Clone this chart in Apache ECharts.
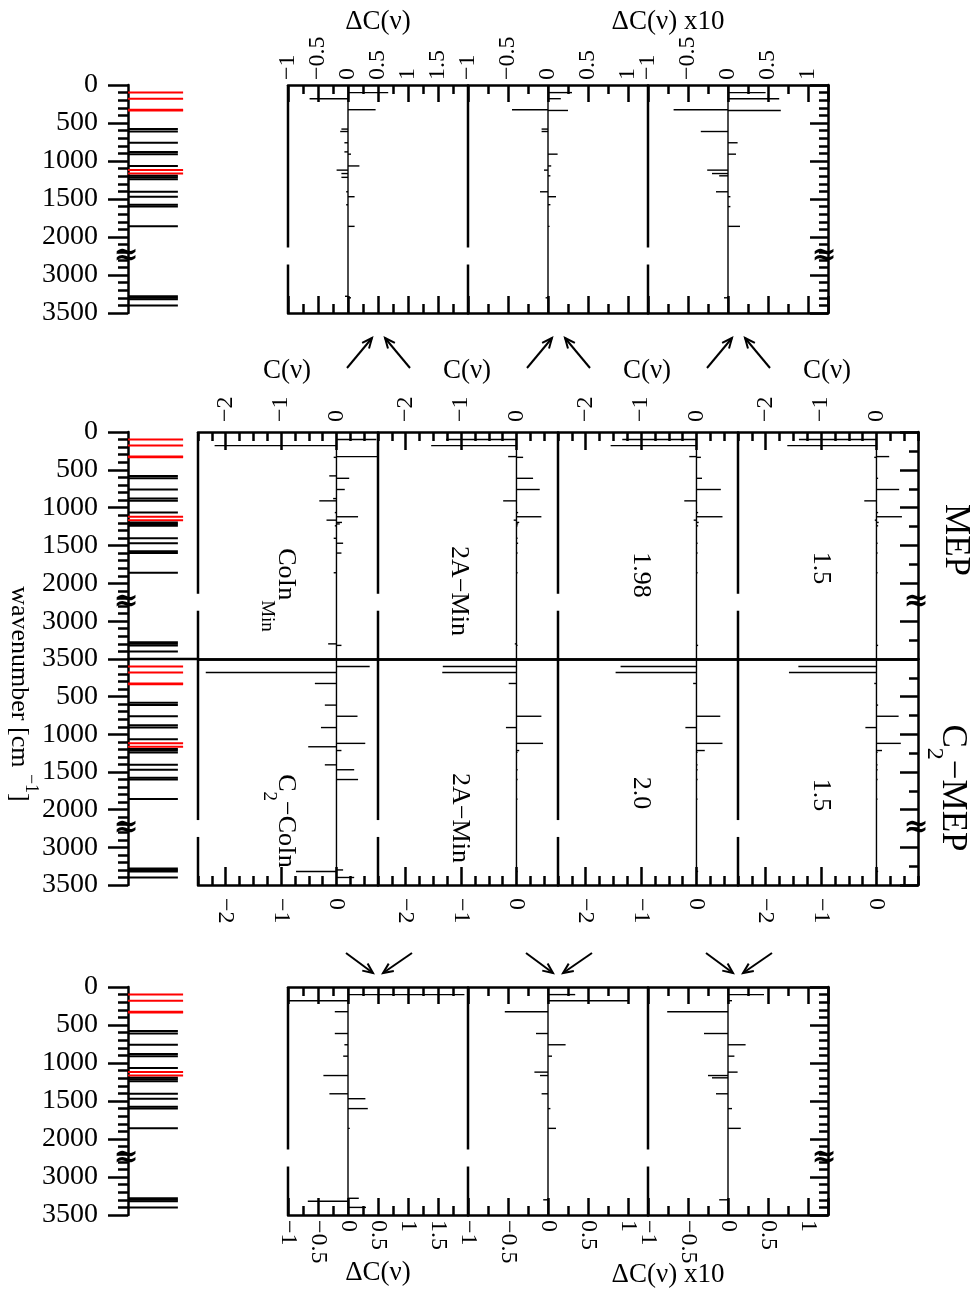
<!DOCTYPE html>
<html>
<head>
<meta charset="utf-8">
<script src="https://cdn.jsdelivr.net/npm/echarts@6/dist/echarts.min.js"></script>
<style>
  html, body { margin: 0; padding: 0; background: #fff; }
  #c { width: 980px; height: 1292px; }
</style>
</head>
<body>
<div id="c"></div>
<script>
// ---- normal modes (cm^-1) ----
const modes = [100, 180, 325, 335, 580, 612, 760, 880, 910, 1065, 1120, 1165, 1195, 1215, 1240, 1405, 1470, 1575, 1600, 1860, 3280, 3300, 3320, 3400];
const highlightedModes = [100, 180, 325, 335, 1120, 1165];

// ---- C(nu) along the MEP ----
const cMepCoInMin = [0.72, -2.20, 0.75, -0.05, -0.13, 0.23, 0.15, -0.06, -0.31, -0.03, 0.39, -0.18, 0.10, 0.06, -0.03, -0.05, 0.12, 0, 0.09, -0.05, 0, -0.15, 0.09, 0];
const cMep2AMin   = [-1.27, -1.54, -0.15, 0.12, 0, 0.30, 0.42, 0, -0.24, 0.03, 0.45, -0.05, 0.05, 0.03, 0.02, 0.02, 0.03, 0, 0.02, 0.02, 0, -0.03, 0.02, 0];
const cMep198     = [-1.34, -1.55, -0.13, 0.08, 0, 0.10, 0.44, 0, -0.22, 0.03, 0.47, -0.05, 0.04, 0, 0.03, 0, 0.02, 0, 0.02, 0.02, 0, 0, 0.03, 0];
const cMep15      = [-1.40, -1.61, 0.23, -0.04, 0, 0.03, 0.41, 0, -0.22, 0.03, 0.46, -0.03, 0.04, 0, 0.03, 0, 0.02, 0, 0.02, 0.02, 0, 0, 0.03, 0];

// ---- C(nu) along the C2-MEP ----
const cC2CoIn  = [0.60, -2.36, -0.39, 0, 0, -0.21, 0.38, 0, -0.28, 0, 0.52, -0.51, 0, 0.09, 0, -0.21, 0.32, 0, 0.39, 0, 0, 0.12, -0.73, 0.32];
const cC22AMin = [-1.33, -1.34, -0.14, 0, 0, 0, 0.45, 0, -0.19, 0, 0.48, 0, 0, 0.05, 0.02, 0, 0.02, 0, 0.02, 0.02, 0, 0, 0.02, 0];
const cC220    = [-1.37, -1.46, -0.06, 0, 0, 0, 0.43, 0, -0.20, 0, 0.47, 0, 0, 0.15, 0.02, 0.02, 0.02, 0, 0.02, 0.02, 0, 0, 0.03, 0];
const cC215    = [-1.41, -1.58, -0.04, 0, 0, 0.03, 0.40, 0, -0.20, 0, 0.44, 0, 0, 0.10, 0.02, 0.02, 0.02, 0, 0.02, 0.02, 0, 0, 0.03, 0];

// ---- Delta C(nu) between neighbouring MEP points ----
const dMep1 = [0.67, -0.64, 0.46, 0, -0.11, -0.13, -0.06, -0.06, 0.05, 0.19, -0.19, -0.11, 0, -0.11, 0, -0.03, 0.11, -0.03, 0, 0.11, -0.05, 0.05, 0, 0];
const dMep2 = [0.30, 0.16, -0.45, 0.25, -0.08, -0.08, 0, 0, 0.12, 0.04, -0.05, 0, 0.03, 0, 0, -0.10, 0.10, 0.03, 0, 0.02, 0, -0.03, 0, 0];
const dMep3 = [0.47, 0.64, -0.68, 0.66, 0, -0.34, 0.12, 0, 0.10, 0, -0.26, -0.20, -0.11, 0, 0, -0.15, 0.03, 0, 0.03, 0.15, 0, -0.05, 0, 0];

// ---- Delta C(nu) between neighbouring C2-MEP points ----
const dC21 = [1.94, -1.00, -0.22, 0, 0, -0.22, -0.06, 0, -0.08, 0, 0, -0.41, 0, 0, 0, -0.31, 0.29, 0, 0.33, 0.03, 0.18, 0, -0.67, 0.30];
const dC22 = [0.34, 1.00, -0.54, 0, 0, -0.15, 0.22, 0, 0.05, 0, -0.17, -0.10, 0, 0, 0, -0.08, 0, 0, 0.03, 0.10, 0, -0.06, 0, 0];
const dC23 = [0.45, 0.05, -0.76, 0, 0, -0.30, 0.22, 0, 0.08, 0, 0.12, -0.25, -0.20, 0, 0, -0.15, 0, 0, 0.05, 0.16, 0, -0.11, 0, 0];

// ---- tick labels of the C(nu) axes ----
const cTickLabels = [-2, -1, 0];

// ---- broken wavenumber axis: 2250..2750 cm^-1 is cut out ----
const BREAK_T = 2250, CUT = 500, SPAN_T = 3000;
const toT = w => (w <= BREAK_T ? w : w - CUT);
const fromT = t => (t <= BREAK_T ? t : t + CUT);

const FONT = 'Liberation Serif';
const BLACK = '#000';
const RED = '#ff0000';
const frameLine = { color: BLACK, width: 2.5 };
const none = { show: false };
const fmt = v => {
  const r = Math.round(v * 100) / 100;
  return r === 0 ? '0' : String(r).replace('-', '\u2212');
};

const grid = [], xAxis = [], yAxis = [], series = [];
const addGrid = (left, top, width, height) => { grid.push({ left, top, width, height }); return grid.length - 1; };
const addX = c => { xAxis.push(c); return xAxis.length - 1; };
const addY = c => { yAxis.push(c); return yAxis.length - 1; };

// wavenumber axis of a value panel (visible only on the outer right frame)
function waveY(gi, visible, minorSplit) {
  return addY({
    gridIndex: gi, type: 'value', inverse: true, min: 0, max: SPAN_T, interval: 500,
    position: 'right', show: visible,
    axisLine: { show: visible, onZero: false, lineStyle: frameLine },
    axisTick: { show: visible, inside: true, length: 18, lineStyle: frameLine },
    minorTick: { show: visible, splitNumber: minorSplit, length: 9, lineStyle: frameLine },
    axisLabel: none, splitLine: none, minorSplitLine: none
  });
}

// sticks: horizontal lines from 0 to the value at each mode
function stickSeries(xi, yi, vals) {
  return {
    type: 'custom', xAxisIndex: xi, yAxisIndex: yi, clip: true, silent: true, z: 3,
    data: modes.map((w, i) => [vals[i], toT(w)]).filter(d => d[0] !== 0),
    renderItem: (p, api) => {
      const a = api.coord([0, api.value(1)]);
      const b = api.coord([api.value(0), api.value(1)]);
      return { type: 'line', shape: { x1: a[0], y1: a[1], x2: b[0], y2: a[1] },
               style: { stroke: BLACK, lineWidth: 1.4 } };
    }
  };
}

// left frame line with a gap at the axis break, plus the zero line
function frameSeries(xi, yi, xmin, gapT) {
  return {
    type: 'custom', xAxisIndex: xi, yAxisIndex: yi, clip: false, silent: true, z: 4,
    data: [[0, 0]],
    renderItem: (p, api) => {
      const a = api.coord([xmin, 0]), b = api.coord([xmin, BREAK_T - gapT]);
      const c = api.coord([xmin, BREAK_T + gapT]), d = api.coord([xmin, SPAN_T]);
      const z0 = api.coord([0, 0]), z1 = api.coord([0, SPAN_T]);
      return { type: 'group', children: [
        { type: 'line', shape: { x1: a[0], y1: a[1], x2: b[0], y2: b[1] }, style: { stroke: BLACK, lineWidth: 2.5 } },
        { type: 'line', shape: { x1: c[0], y1: c[1], x2: d[0], y2: d[1] }, style: { stroke: BLACK, lineWidth: 2.5 } },
        { type: 'line', shape: { x1: z0[0], y1: z0[1], x2: z1[0], y2: z1[1] }, style: { stroke: BLACK, lineWidth: 1.4 } }
      ] };
    }
  };
}

// Delta C panel: major ticks every 0.5, minor every 0.25, ticks on both frames
function dcPanel(left, top, width, height, min, max, labelSide, vals, isLast) {
  const gi = addGrid(left, top, width, height);
  const other = labelSide === 'top' ? 'bottom' : 'top';
  const tick = { show: true, inside: true, length: 17, lineStyle: frameLine };
  const minor = { show: true, splitNumber: 2, length: 9, lineStyle: frameLine };
  const xi = addX({
    gridIndex: gi, type: 'value', position: labelSide, min, max, interval: 0.5,
    axisLine: { show: true, onZero: false, lineStyle: frameLine },
    axisTick: tick, minorTick: minor,
    axisLabel: { show: true, rotate: -90, margin: 5, fontSize: 24, fontFamily: FONT, color: BLACK,
      formatter: v => (v >= max - 1e-9 || Math.abs(v * 2 - Math.round(v * 2)) > 1e-6) ? '' : fmt(v) },
    splitLine: none, minorSplitLine: none
  });
  addX({
    gridIndex: gi, type: 'value', position: other, min, max, interval: 0.5,
    axisLine: { show: true, onZero: false, lineStyle: frameLine },
    axisTick: tick, minorTick: minor, axisLabel: none, splitLine: none, minorSplitLine: none
  });
  const yi = waveY(gi, isLast, 5);
  series.push(frameSeries(xi, yi, min, 112), stickSeries(xi, yi, vals));
}

// C panel: range -2.5..0.75, long ticks at integers, short every 0.25
function cPanel(left, top, width, height, labelSide, vals, isLast) {
  const gi = addGrid(left, top, width, height);
  const min = -2.5, max = 0.75;
  const other = labelSide === 'top' ? 'bottom' : 'top';
  const xi = addX({
    gridIndex: gi, type: 'value', position: labelSide, min, max, interval: 0.25,
    axisLine: { show: true, onZero: false, lineStyle: frameLine },
    axisTick: { show: true, inside: true, length: 9, lineStyle: frameLine },
    axisLabel: none, splitLine: none, minorTick: none, minorSplitLine: none
  });
  addX({
    gridIndex: gi, type: 'value', position: labelSide, min, max,
    axisLine: { show: false, onZero: false },
    axisTick: { show: true, inside: true, length: 18, lineStyle: frameLine, customValues: cTickLabels },
    axisLabel: { show: true, customValues: cTickLabels, rotate: -90, margin: labelSide === 'top' ? 10 : 13,
      fontSize: 24, fontFamily: FONT, color: BLACK, formatter: fmt },
    splitLine: none
  });
  addX({
    gridIndex: gi, type: 'value', position: other, min, max,
    axisLine: { show: true, onZero: false, lineStyle: frameLine },
    axisTick: none, axisLabel: none, splitLine: none
  });
  const yi = waveY(gi, isLast, 2);
  series.push(frameSeries(xi, yi, min, 112), stickSeries(xi, yi, vals));
}

// stick spectrum of all modes on the left, with the labelled wavenumber axis
function spectrumPanel(top, height, hideFirst) {
  const gi = addGrid(128, top, 58, height);
  const xi = addX({ gridIndex: gi, type: 'value', min: 0, max: 1, show: false });
  const yi = addY({
    gridIndex: gi, type: 'value', inverse: true, min: 0, max: SPAN_T, interval: 500, position: 'left',
    axisLine: { show: true, onZero: false, lineStyle: frameLine },
    axisTick: { show: true, inside: false, length: 20, lineStyle: frameLine },
    minorTick: { show: true, splitNumber: 5, length: 10, lineStyle: frameLine },
    axisLabel: { show: true, margin: 30, fontSize: 28, fontFamily: FONT, color: BLACK,
      formatter: v => (hideFirst && v === 0) ? '' : String(fromT(v)) },
    splitLine: none, minorSplitLine: none
  });
  series.push({
    type: 'custom', xAxisIndex: xi, yAxisIndex: yi, clip: false, silent: true,
    data: modes.map(w => [highlightedModes.includes(w) ? 1 : 0, toT(w)]),
    renderItem: (p, api) => {
      const hi = api.value(0) === 1;
      const a = api.coord([0, api.value(1)]);
      const b = api.coord([hi ? 0.95 : 0.86, api.value(1)]);
      return { type: 'line', shape: { x1: a[0], y1: a[1], x2: b[0], y2: a[1] },
               style: { stroke: hi ? RED : BLACK, lineWidth: 2 } };
    }
  });
}

// ---- layout ----
const DC_COLS = [288, 468, 648], C_COLS = [198, 378, 558, 738], COL_W = 180;
const ROW_TOP = [85, 228], ROW_MEP = [432, 227], ROW_C2 = [659, 226], ROW_BOT = [987, 228];

spectrumPanel(ROW_TOP[0], ROW_TOP[1], false);
spectrumPanel(ROW_MEP[0], ROW_MEP[1], false);
spectrumPanel(ROW_C2[0], ROW_C2[1], true);
spectrumPanel(ROW_BOT[0], ROW_BOT[1], false);

[dMep1, dMep2, dMep3].forEach((v, i) =>
  dcPanel(DC_COLS[i], ROW_TOP[0], COL_W, ROW_TOP[1], -1, i === 0 ? 2 : 1.25, 'top', v, i === 2));
[cMepCoInMin, cMep2AMin, cMep198, cMep15].forEach((v, i) =>
  cPanel(C_COLS[i], ROW_MEP[0], COL_W, ROW_MEP[1], 'top', v, i === 3));
[cC2CoIn, cC22AMin, cC220, cC215].forEach((v, i) =>
  cPanel(C_COLS[i], ROW_C2[0], COL_W, ROW_C2[1], 'bottom', v, i === 3));
[dC21, dC22, dC23].forEach((v, i) =>
  dcPanel(DC_COLS[i], ROW_BOT[0], COL_W, ROW_BOT[1], -1, i === 0 ? 2 : 1.25, 'bottom', v, i === 2));

// ---- annotations ----
const G = [];
const breakY = row => row[0] + row[1] * BREAK_T / SPAN_T;
function text(x, y, str, size, rotated, rich) {
  G.push({
    type: 'text', x, y, rotation: rotated ? -Math.PI / 2 : 0, z: 10,
    style: { text: str, fontSize: size, fontFamily: FONT, fill: BLACK, align: 'center', verticalAlign: 'middle', rich }
  });
}
function arrow(x1, y1, x2, y2) {
  const ang = Math.atan2(y2 - y1, x2 - x1), h = 11, sp = 0.42;
  const p1 = [x2 - h * Math.cos(ang - sp), y2 - h * Math.sin(ang - sp)];
  const p2 = [x2 - h * Math.cos(ang + sp), y2 - h * Math.sin(ang + sp)];
  G.push({ type: 'line', z: 10, shape: { x1, y1, x2, y2 }, style: { stroke: BLACK, lineWidth: 2 } });
  G.push({ type: 'polyline', z: 10, shape: { points: [p1, [x2, y2], p2] }, style: { stroke: BLACK, lineWidth: 2, fill: null } });
}
function breakMark(x, y) {
  G.push({ type: 'text', x, y, z: 12,
    style: { text: '\u2248', fontSize: 30, fontFamily: 'DejaVu Serif', fontWeight: 'bold', fill: BLACK, align: 'center', verticalAlign: 'middle' } });
}

// separator between the two halves of the middle block, continued to the spectrum axis
G.push({ type: 'line', z: 10, shape: { x1: 128, y1: ROW_C2[0], x2: C_COLS[0], y2: ROW_C2[0] }, style: { stroke: BLACK, lineWidth: 2.5 } });

[ROW_TOP, ROW_MEP, ROW_C2, ROW_BOT].forEach(r => breakMark(126, breakY(r)));
breakMark(DC_COLS[2] + COL_W - 4, breakY(ROW_TOP));
breakMark(DC_COLS[2] + COL_W - 4, breakY(ROW_BOT));
breakMark(C_COLS[3] + COL_W - 2, breakY(ROW_MEP));
breakMark(C_COLS[3] + COL_W - 2, breakY(ROW_C2));

// axis titles
text(378, 22, '\u0394C(\u03bd)', 27);
text(668, 22, '\u0394C(\u03bd) x10', 27);
text(378, 1273, '\u0394C(\u03bd)', 27);
text(668, 1275, '\u0394C(\u03bd) x10', 27);
C_COLS.forEach(x => text(x + 89, 371, 'C(\u03bd)', 27));

// arrows between the blocks
[378, 558, 738].forEach(cx => {
  arrow(cx - 31, 368, cx - 6, 338);
  arrow(cx + 32, 368, cx + 7, 338);
  arrow(cx - 32, 953, cx - 5, 973);
  arrow(cx + 34, 953, cx + 5, 973);
});

// rotated labels
const subRich = (big, small, lh) => ({
  a: { fontSize: big, fontFamily: FONT, fill: BLACK, lineHeight: lh, verticalAlign: 'top' },
  b: { fontSize: small, fontFamily: FONT, fill: BLACK, lineHeight: small, verticalAlign: 'bottom' }
});
text(23, 694, '{a|wavenumber [cm }{b|\u22121}{a|]}', 26, true, {
  a: { fontSize: 26, fontFamily: FONT, fill: BLACK, lineHeight: 34, verticalAlign: 'bottom' },
  b: { fontSize: 18, fontFamily: FONT, fill: BLACK, lineHeight: 18, verticalAlign: 'top' }
});
text(955, 540, 'MEP', 35, true);
text(946, 788, '{a|C}{b|2}{a|\u2212MEP}', 35, true, subRich(35, 24, 47));

text(278, 590, '{a|CoIn}{b|Min}', 26, true, subRich(26, 19, 41));
text(459, 591, '2A\u2212Min', 26, true);
text(641, 575, '1.98', 26, true);
text(821, 568, '1.5', 26, true);
text(279, 821, '{a|C}{b|2}{a|\u2212CoIn}', 26, true, subRich(26, 19, 40));
text(460, 818, '2A\u2212Min', 26, true);
text(641, 793, '2.0', 26, true);
text(821, 795, '1.5', 26, true);

const chart = echarts.init(document.getElementById('c'), null, { renderer: 'canvas', width: 980, height: 1292 });
chart.setOption({
  animation: false,
  backgroundColor: '#fff',
  grid, xAxis, yAxis, series,
  graphic: { elements: G }
});
</script>
</body>
</html>
